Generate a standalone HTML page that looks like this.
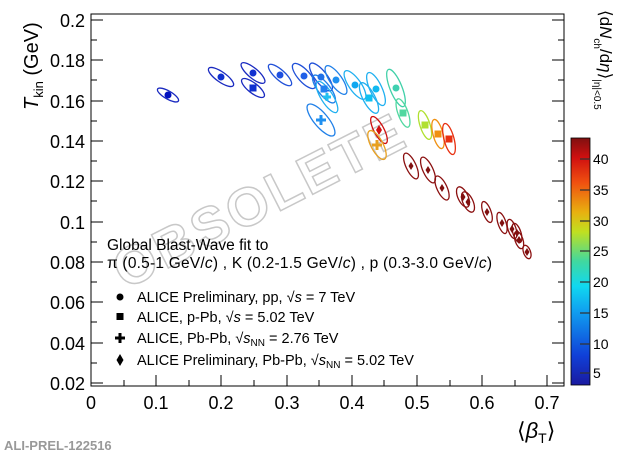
<!DOCTYPE html>
<html><head><meta charset="utf-8"><style>body{margin:0;background:#fff}svg{display:block}text{font-family:"Liberation Sans",sans-serif}</style></head><body>
<svg width="623" height="456" viewBox="0 0 623 456" xmlns="http://www.w3.org/2000/svg">
<defs>
<linearGradient id="cb" x1="0" y1="1" x2="0" y2="0">
<stop offset="0" stop-color="#1a1aa0"/><stop offset="0.12" stop-color="#1040d8"/><stop offset="0.3" stop-color="#10a0f0"/><stop offset="0.4" stop-color="#10d8f0"/><stop offset="0.5" stop-color="#40d8a0"/><stop offset="0.62" stop-color="#c0e020"/><stop offset="0.7" stop-color="#e8b010"/><stop offset="0.82" stop-color="#f05010"/><stop offset="0.92" stop-color="#d01010"/><stop offset="1" stop-color="#801010"/>
</linearGradient>
</defs>
<rect x="91" y="14" width="473" height="372" fill="none" stroke="#000" stroke-width="1"/>
<g stroke="#000" stroke-width="1">
<path d="M91 20h12M91 60h12M91 101h12M91 141h12M91 181h12M91 222h12M91 262h12M91 302h12M91 343h12M91 383h12"/>
<path d="M564 20h-12M564 60h-12M564 101h-12M564 141h-12M564 181h-12M564 222h-12M564 262h-12M564 302h-12M564 343h-12M564 383h-12"/>
<path d="M91 40h6M91 80h6M91 121h6M91 161h6M91 201h6M91 242h6M91 282h6M91 322h6M91 363h6M564 40h-6M564 80h-6M564 121h-6M564 161h-6M564 201h-6M564 242h-6M564 282h-6M564 322h-6M564 363h-6"/>
<path d="M91 386v-11M156 386v-11M221 386v-11M287 386v-11M352 386v-11M417 386v-11M482 386v-11M547 386v-11"/>
<path d="M124 386v-6M189 386v-6M254 386v-6M319 386v-6M384 386v-6M450 386v-6M515 386v-6"/>
</g>
<g font-size="18" text-anchor="end">
<text x="85" y="27">0.2</text><text x="85" y="67">0.18</text><text x="85" y="108">0.16</text><text x="85" y="148">0.14</text><text x="85" y="188">0.12</text><text x="85" y="229">0.1</text><text x="85" y="269">0.08</text><text x="85" y="309">0.06</text><text x="85" y="350">0.04</text><text x="85" y="390">0.02</text>
</g>
<g font-size="18" text-anchor="middle">
<text x="91" y="409">0</text><text x="156" y="409">0.1</text><text x="221" y="409">0.2</text><text x="287" y="409">0.3</text><text x="352" y="409">0.4</text><text x="417" y="409">0.5</text><text x="482" y="409">0.6</text><text x="547" y="409">0.7</text>
</g>
<text transform="translate(38,110) rotate(-90)" font-size="20"><tspan font-style="italic">T</tspan><tspan font-size="13" dy="5">kin</tspan><tspan dy="-5"> (GeV)</tspan></text>
<text x="517" y="438" font-size="22">⟨<tspan font-style="italic">β</tspan><tspan font-size="14" dy="5">T</tspan><tspan dy="-5">⟩</tspan></text>
<text transform="translate(125,290) rotate(-27)" font-size="54" font-family="Liberation Sans,sans-serif" font-weight="bold" fill="none" stroke="#c8c8c8" stroke-width="1.5" letter-spacing="3">OBSOLETE</text>
<g stroke-width="1.3" fill="none">
<g stroke="#1a2ac0"><ellipse cx="168" cy="95" rx="12" ry="4" transform="rotate(30 168 95)"/><ellipse cx="221" cy="77" rx="15" ry="5" transform="rotate(35 221 77)"/><ellipse cx="253" cy="73" rx="15" ry="5" transform="rotate(40 253 73)"/><ellipse cx="253" cy="88" rx="14" ry="5" transform="rotate(38 253 88)"/></g>
<g stroke="#2050d8"><ellipse cx="280" cy="75" rx="15" ry="5" transform="rotate(42 280 75)"/><ellipse cx="304" cy="76" rx="16" ry="6" transform="rotate(48 304 76)"/><ellipse cx="321" cy="77" rx="17" ry="6" transform="rotate(52 321 77)"/></g>
<g stroke="#2080e8"><ellipse cx="336" cy="80" rx="17" ry="6" transform="rotate(55 336 80)"/><ellipse cx="324" cy="89" rx="17" ry="6" transform="rotate(52 324 89)"/><ellipse cx="321" cy="120" rx="20" ry="7" transform="rotate(50 321 120)"/></g>
<g stroke="#20b0f0"><ellipse cx="327" cy="97" rx="18" ry="6" transform="rotate(58 327 97)"/><ellipse cx="355" cy="85" rx="17" ry="6" transform="rotate(55 355 85)"/><ellipse cx="376" cy="89" rx="18" ry="6" transform="rotate(65 376 89)"/><ellipse cx="369" cy="98" rx="17" ry="6" transform="rotate(62 369 98)"/></g>
<ellipse cx="396" cy="88" rx="20" ry="6" transform="rotate(68 396 88)" stroke="#40d0a8"/>
<ellipse cx="403" cy="113" rx="15" ry="5" transform="rotate(70 403 113)" stroke="#50d8a0"/>
<ellipse cx="425" cy="125" rx="15" ry="5" transform="rotate(72 425 125)" stroke="#b0e030"/>
<ellipse cx="438" cy="134" rx="15" ry="5" transform="rotate(75 438 134)" stroke="#f09010"/>
<ellipse cx="449" cy="139" rx="16" ry="5" transform="rotate(75 449 139)" stroke="#e83010"/>
<ellipse cx="379" cy="130" rx="15" ry="5" transform="rotate(62 379 130)" stroke="#d01010"/>
<ellipse cx="377" cy="145" rx="16" ry="6" transform="rotate(62 377 145)" stroke="#e8a020"/>
<g stroke="#8b1010"><ellipse cx="411" cy="166" rx="14" ry="5" transform="rotate(65 411 166)"/><ellipse cx="428" cy="170" rx="14" ry="5" transform="rotate(65 428 170)"/><ellipse cx="442" cy="188" rx="13" ry="5" transform="rotate(65 442 188)"/><ellipse cx="463" cy="197" rx="11" ry="5" transform="rotate(65 463 197)"/><ellipse cx="468" cy="202" rx="11" ry="5" transform="rotate(65 468 202)"/><ellipse cx="487" cy="212" rx="11" ry="4" transform="rotate(70 487 212)"/><ellipse cx="502" cy="223" rx="11" ry="4" transform="rotate(72 502 223)"/><ellipse cx="512" cy="229" rx="10" ry="4" transform="rotate(72 512 229)"/><ellipse cx="517" cy="233" rx="10" ry="4" transform="rotate(72 517 233)"/><ellipse cx="519" cy="240" rx="9" ry="4" transform="rotate(72 519 240)"/><ellipse cx="527" cy="252" rx="7" ry="3.5" transform="rotate(70 527 252)"/></g>
</g>
<g>
<circle cx="168" cy="95" r="3.5" fill="#0010c0"/><circle cx="221" cy="77" r="3.5" fill="#1030d0"/><circle cx="253" cy="73" r="3.5" fill="#1030d0"/><rect x="249.5" y="84.5" width="7" height="7" fill="#1030d0"/>
<circle cx="280" cy="75" r="3.5" fill="#1f50e0"/><circle cx="304" cy="76" r="3.5" fill="#2060e8"/><circle cx="321" cy="77" r="3.5" fill="#2070e8"/><circle cx="336" cy="80" r="3.5" fill="#2090f0"/><rect x="320.5" y="85.5" width="7" height="7" fill="#2080f0"/>
<path d="M321 115v10M316 120h10" stroke="#2090f0" stroke-width="3"/><path d="M327 93v8M323 97h8" stroke="#20c0f0" stroke-width="3"/>
<circle cx="355" cy="85" r="3.5" fill="#10a8f0"/><circle cx="376" cy="89" r="3.5" fill="#10b8f0"/><rect x="365.5" y="94.5" width="7" height="7" fill="#10c0f0"/>
<circle cx="396" cy="88" r="3.5" fill="#40d0b0"/><rect x="399.5" y="109.5" width="7" height="7" fill="#50d8a0"/><rect x="421.5" y="121.5" width="7" height="7" fill="#b0e030"/><rect x="434.5" y="130.5" width="7" height="7" fill="#f09010"/><rect x="445.5" y="135.5" width="7" height="7" fill="#e83010"/>
<path d="M379 125l3 5-3 5-3-5z" fill="#d01010"/><path d="M377 140v10M372 145h10" stroke="#e8a020" stroke-width="3"/>
<g fill="#801010"><path d="M411 162l2.5 4-2.5 4-2.5-4z"/><path d="M428 166l2.5 4-2.5 4-2.5-4z"/><path d="M442 184l2.5 4-2.5 4-2.5-4z"/><path d="M463 193l2.5 4-2.5 4-2.5-4z"/><path d="M468 198l2.5 4-2.5 4-2.5-4z"/><path d="M487 208l2.5 4-2.5 4-2.5-4z"/><path d="M502 219l2.5 4-2.5 4-2.5-4z"/><path d="M512 225l2.5 4-2.5 4-2.5-4z"/><path d="M517 229l2.5 4-2.5 4-2.5-4z"/><path d="M519 236l2.5 4-2.5 4-2.5-4z"/><path d="M527 248l2.5 4-2.5 4-2.5-4z"/></g>
</g>
<g font-size="15.5">
<text x="107" y="250">Global Blast-Wave fit to</text>
<text x="107" y="268" textLength="385">π (0.5-1 GeV/<tspan font-style="italic">c</tspan>) , K (0.2-1.5 GeV/<tspan font-style="italic">c</tspan>) , p (0.3-3.0 GeV/<tspan font-style="italic">c</tspan>)</text>
</g>
<g font-size="14.5">
<text x="137" y="302">ALICE Preliminary, pp, √<tspan font-style="italic">s</tspan> = 7 TeV</text>
<text x="137" y="322">ALICE, p-Pb, √<tspan font-style="italic">s</tspan> = 5.02 TeV</text>
<text x="137" y="343">ALICE, Pb-Pb, √<tspan font-style="italic">s</tspan><tspan font-size="10" dy="3">NN</tspan><tspan dy="-3"> = 2.76 TeV</tspan></text>
<text x="137" y="365">ALICE Preliminary, Pb-Pb, √<tspan font-style="italic">s</tspan><tspan font-size="10" dy="3">NN</tspan><tspan dy="-3"> = 5.02 TeV</tspan></text>
</g>
<circle cx="120" cy="297" r="3.5"/><rect x="116.5" y="313" width="7" height="7"/><path d="M120 333v10M115 338h10" stroke="#000" stroke-width="3"/><path d="M120 354l3.5 6-3.5 6-3.5-6z"/>
<rect x="571" y="138" width="19" height="247" fill="url(#cb)" stroke="#000" stroke-width="0.8"/>
<g stroke="#333" stroke-width="1.2"><path d="M580 373h10M580 344h10M580 313h10M580 282h10M580 251h10M580 221h10M580 190h10M580 159h10"/></g>
<g font-size="14"><text x="593" y="378">5</text><text x="593" y="349">10</text><text x="593" y="318">15</text><text x="593" y="287">20</text><text x="593" y="256">25</text><text x="593" y="226">30</text><text x="593" y="195">35</text><text x="593" y="164">40</text></g>
<text transform="translate(600,10) rotate(90)" font-size="17">⟨d<tspan font-style="italic">N</tspan><tspan font-size="10" dy="6">ch</tspan><tspan dy="-6">/d</tspan><tspan font-style="italic">η</tspan>⟩<tspan font-size="10" dy="6">|η|&lt;0.5</tspan></text>
<text x="4" y="450" font-size="13" font-family="Liberation Mono,monospace" font-weight="bold" fill="#999">ALI-PREL-122516</text>
</svg>
</body></html>
